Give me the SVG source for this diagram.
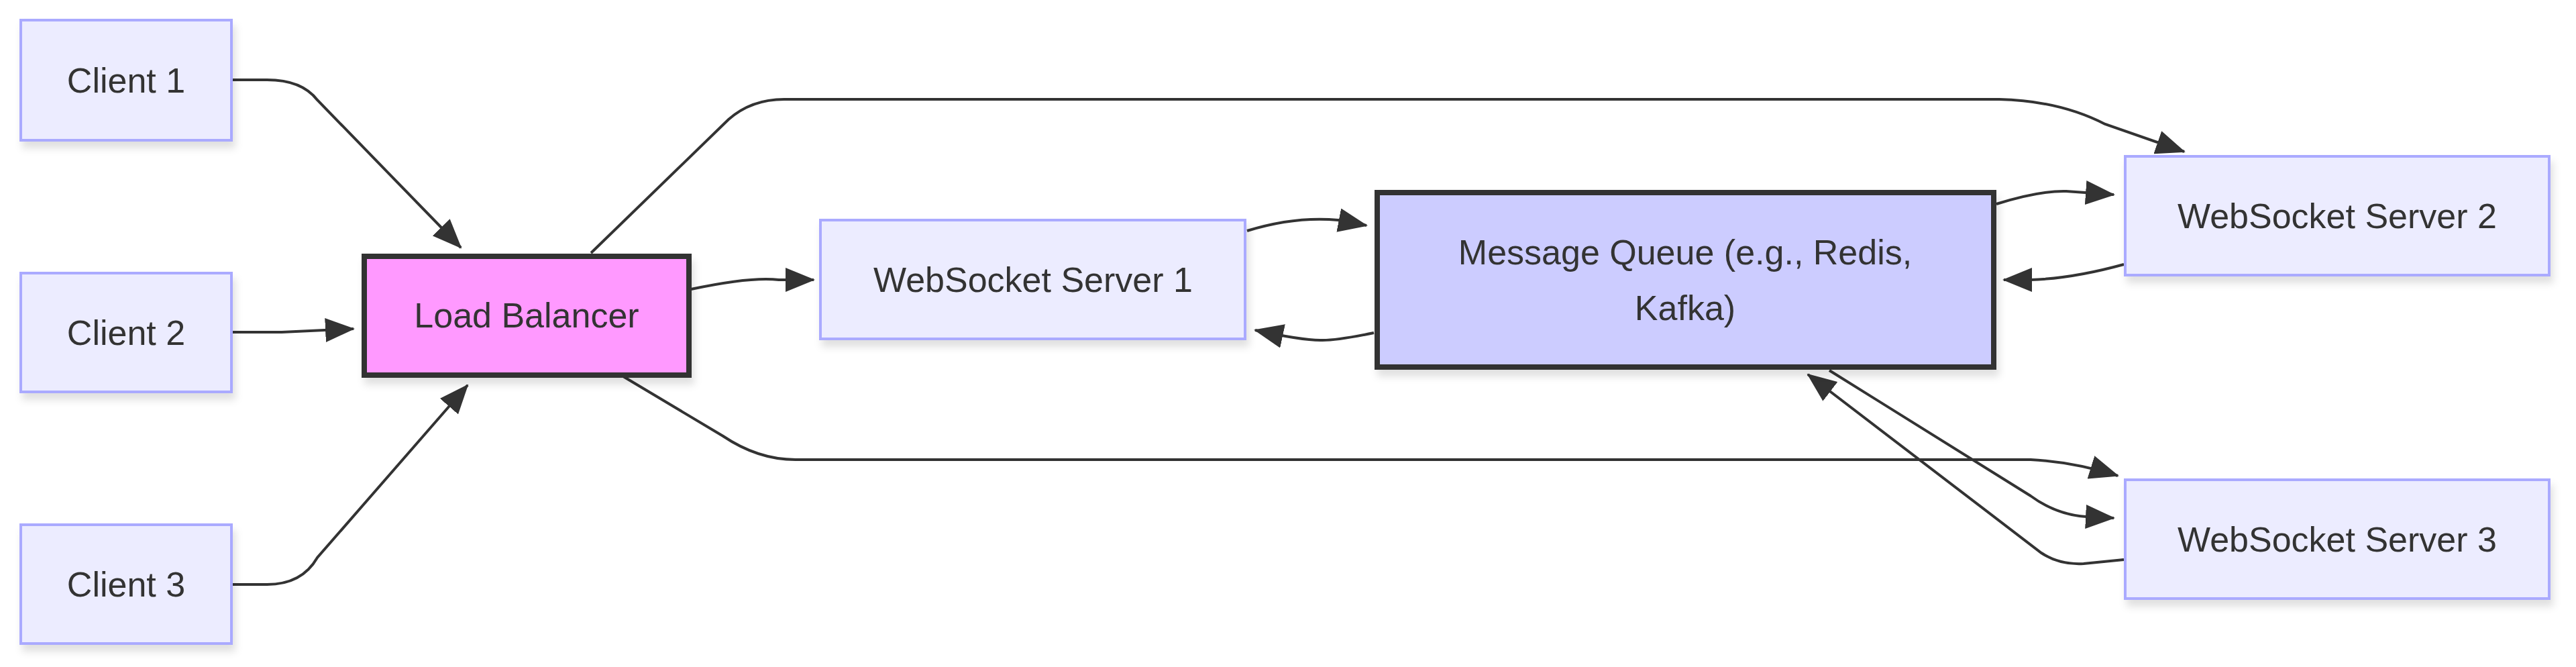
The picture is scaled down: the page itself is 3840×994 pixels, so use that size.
<svg xmlns="http://www.w3.org/2000/svg" width="3840" height="994" viewBox="0 0 3840 994">
<style>
.n{fill:#ECECFF;stroke:#AAAAFF;stroke-width:4;filter:url(#sh)}
.lb{fill:#FF99FF;stroke:#333;stroke-width:8;filter:url(#sh)}
.mq{fill:#CCCCFF;stroke:#333;stroke-width:8;filter:url(#sh)}
.t{font-family:"Liberation Sans",Arial,sans-serif;font-size:52px;fill:#333;text-anchor:middle;dominant-baseline:central}
.e{fill:none;stroke:#333;stroke-width:4;marker-end:url(#a)}
</style>
<defs>
<filter id="sh" x="-10%" y="-10%" width="120%" height="130%"><feDropShadow dx="4" dy="10" stdDeviation="6" flood-color="#000" flood-opacity="0.12"/></filter>
<marker id="a" markerUnits="userSpaceOnUse" markerWidth="44" markerHeight="36" refX="42" refY="18" orient="auto"><path d="M0,0 L44,18 L0,36 z" fill="#333"/></marker>
</defs>
<rect width="3840" height="994" fill="#fff"/>
<g id="edges">
<path class="e" d="M345,119 L398,119 Q450,119 473,149 L687,369"/>
<path class="e" d="M345,495 L420,495 L527,490"/>
<path class="e" d="M345,871 L398,871 Q450,871 473,831 L697,574"/>
<path class="e" d="M1030,431 Q1120,412 1161,417 L1213,417"/>
<path class="e" d="M881,377 L1086,178 Q1120,148 1169,148 L2980,148 Q3070,150 3138,185 L3256,226"/>
<path class="e" d="M929,561 L1078,650 Q1130,685 1186,685 L3027,685 Q3090,688 3157,709"/>
<path class="e" d="M1859,344 Q1930,322 1995,328 L2037,336"/>
<path class="e" d="M2048,496 Q1990,508 1968,507 Q1940,507 1871,492"/>
<path class="e" d="M2976,304 Q3040,284 3080,285 L3151,290"/>
<path class="e" d="M3166,394 Q3090,415 3027,417 L2987,417"/>
<path class="e" d="M2727,552 L3027,739 Q3065,767 3110,770 L3151,772"/>
<path class="e" d="M3166,834 L3106,840 Q3070,842 3043,824 L2695,558"/>
</g>
<g id="client1"><rect class="n" x="31" y="30" width="314" height="179"/><text class="t" x="188" y="120">Client 1</text></g>
<g id="client2"><rect class="n" x="31" y="407" width="314" height="177"/><text class="t" x="188" y="496">Client 2</text></g>
<g id="client3"><rect class="n" x="31" y="782" width="314" height="177"/><text class="t" x="188" y="871">Client 3</text></g>
<g id="lb"><rect class="lb" x="543" y="382" width="484" height="177"/><text class="t" x="785" y="470">Load Balancer</text></g>
<g id="ws1"><rect class="n" x="1223" y="328" width="633" height="177"/><text class="t" x="1540" y="417">WebSocket Server 1</text></g>
<g id="mq"><rect class="mq" x="2053" y="287" width="919" height="260"/><text class="t" x="2512" y="376">Message Queue (e.g., Redis,</text><text class="t" x="2512" y="459">Kafka)</text></g>
<g id="ws2"><rect class="n" x="3168" y="233" width="632" height="177"/><text class="t" x="3484" y="322">WebSocket Server 2</text></g>
<g id="ws3"><rect class="n" x="3168" y="715" width="632" height="177"/><text class="t" x="3484" y="804">WebSocket Server 3</text></g>
</svg>
